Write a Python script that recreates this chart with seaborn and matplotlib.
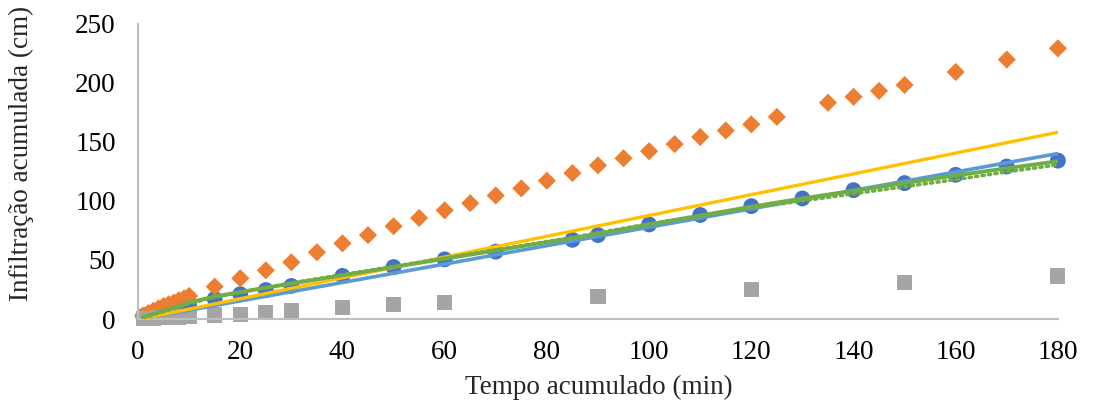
import matplotlib
matplotlib.use("Agg")
import matplotlib.pyplot as plt
import seaborn as sns
import pandas as pd

# ---- data ----
x_blue = [1, 2, 3, 4, 5, 6, 7, 8, 9, 10, 15, 20, 25, 30, 40, 50, 60, 70, 85, 90,
          100, 110, 120, 130, 140, 150, 160, 170, 180]
y_blue = [2.5, 4, 5.5, 7, 8, 9, 10, 11, 12, 13, 17, 21, 24.5, 28, 36.5, 44, 50.5, 57, 67, 71,
          80, 88, 95.5, 102, 109, 115, 122, 129, 134]

x_orange = [1, 2, 3, 4, 5, 6, 7, 8, 9, 10, 15, 20, 25, 30, 35, 40, 45, 50, 55, 60, 65, 70,
            75, 80, 85, 90, 95, 100, 105, 110, 115, 120, 125, 135, 140, 145, 150, 160, 170, 180]
y_orange = [3, 5, 7, 9, 11, 12.5, 14, 16, 17.5, 19.5, 27.4, 34.5, 41.2, 48, 56.5, 64, 71, 78.5,
            85.5, 92, 98, 104.5, 110.5, 117, 123.5, 130, 136, 142, 148, 154, 159.5, 164.7,
            171, 183, 188, 193, 198, 209, 219.5, 229]

x_gray = [1, 2, 3, 4, 5, 6, 7, 8, 9, 10, 15, 20, 25, 30, 40, 50, 60, 90, 120, 150, 180]
y_gray = [0.3, 0.5, 0.7, 0.9, 1.1, 1.3, 1.5, 1.7, 1.9, 2.1, 3.4, 4.2, 5.3, 6.8, 9.4, 11.9,
          13.7, 18.8, 24.6, 30.8, 36.4]

x_blue_line = [1, 180]
y_blue_line = [0.5, 140]

x_yellow_line = [1, 180]
y_yellow_line = [0.5, 158]

x_green = [1, 10, 15, 20, 25, 30, 40, 50, 60, 70, 85, 90, 100, 110, 120, 130, 140, 150,
           160, 170, 180]
y_green_solid = [1.5, 14, 19, 22.8, 26.5, 30, 37, 44, 51, 58, 68.5, 72, 80, 87.5, 95, 102,
                 108.5, 115, 121.5, 127.5, 133.5]
y_green_dotted = [1, 13, 18.5, 22.5, 26.5, 30.5, 37.5, 44.5, 51.5, 58.5, 69, 73, 80.5, 87.5,
                  94, 100, 106, 112, 118, 124.5, 130.5]

x_ticks = [0, 20, 40, 60, 80, 100, 120, 140, 160, 180]
y_ticks = [0, 50, 100, 150, 200, 250]

# ---- style ----
sns.set_style("white")
plt.rcParams['font.family'] = ['Liberation Serif', 'DejaVu Serif']

fig = plt.figure(figsize=(11.15, 4.09), dpi=100)
ax = fig.add_axes([0.1238, 0.22, 0.825, 0.7225])

df_b = pd.DataFrame({"x": x_blue, "y": y_blue})
df_o = pd.DataFrame({"x": x_orange, "y": y_orange})
df_g = pd.DataFrame({"x": x_gray, "y": y_gray})

sns.scatterplot(data=df_b, x="x", y="y", ax=ax, marker="o", s=130, color="#4472C4",
                edgecolor="none", zorder=2, clip_on=False)
sns.scatterplot(data=df_o, x="x", y="y", ax=ax, marker="D", s=85, color="#ED7D31",
                edgecolor="none", zorder=2, clip_on=False)
sns.scatterplot(data=df_g, x="x", y="y", ax=ax, marker="s", s=118, color="#A5A5A5",
                edgecolor="none", zorder=2, clip_on=False)

sns.lineplot(x=x_blue_line, y=y_blue_line, ax=ax, color="#5B9BD5", linewidth=2.6, zorder=3)
sns.lineplot(x=x_yellow_line, y=y_yellow_line, ax=ax, color="#FFC000", linewidth=2.4, zorder=3)
sns.lineplot(x=x_green, y=y_green_solid, ax=ax, color="#70AD47", linewidth=2.8, zorder=4)
sns.lineplot(x=x_green, y=y_green_dotted, ax=ax, color="#70AD47", linewidth=2.6,
             linestyle=(0, (0.6, 1.2)), dash_capstyle="round", zorder=4)

ax.set_xlim(0, 180)
ax.set_ylim(0, 250)
ax.set_xticks(x_ticks)
ax.set_yticks(y_ticks)
ax.tick_params(axis="both", length=0, labelsize=19.5, colors="black")
ax.tick_params(axis="x", pad=15)
ax.tick_params(axis="y", pad=16)
ax.set_xlabel("Tempo acumulado (min)", fontsize=19.5)
ax.set_ylabel("Infiltração acumulada (cm)", fontsize=19.5)
ax.xaxis.set_label_coords(0.5005, -0.19)
ax.yaxis.set_label_coords(-0.113, 0.56)

for side in ["top", "right"]:
    ax.spines[side].set_visible(False)
for side in ["left", "bottom"]:
    ax.spines[side].set_color("#BFBFBF")
    ax.spines[side].set_linewidth(1.5)

fig.savefig("out.png", dpi=100)
